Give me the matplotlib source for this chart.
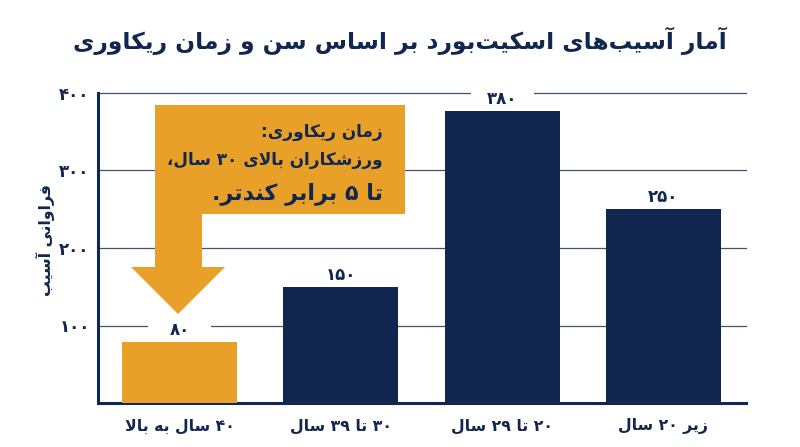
import matplotlib
matplotlib.use("Agg")
import matplotlib.pyplot as plt
from matplotlib.patches import Polygon, Rectangle
from matplotlib.transforms import Affine2D

title = "آمار آسیب\u200cهای اسکیت\u200cبورد بر اساس سن و زمان ریکاوری"
ylabel = "فراوانی آسیب"
categories = ["۴۰ سال به بالا", "۳۰ تا ۳۹ سال", "۲۰ تا ۲۹ سال", "زیر ۲۰ سال"]
bar_heights = [79, 150, 377, 250]
value_labels = ["۸۰", "۱۵۰", "۳۸۰", "۲۵۰"]
bar_colors = ["#E8A028", "#12274F", "#12274F", "#12274F"]
y_ticks = [100, 200, 300, 400]
y_tick_labels = ["۱۰۰", "۲۰۰", "۳۰۰", "۴۰۰"]
callout_lines = ["زمان ریکاوری:", "ورزشکاران بالای ۳۰ سال،", "تا ۵ برابر کندتر."]

NAVY = "#12274F"
ORANGE = "#E8A028"

DUAL = {"ب": 0xFE8F, "ت": 0xFE95, "س": 0xFEB1, "ش": 0xFEB5, "ف": 0xFED1, "ل": 0xFEDD,
        "م": 0xFEE1, "ن": 0xFEE5, "ه": 0xFEE9, "ک": 0xFB8E, "ی": 0xFBFC}
RIGHT = {"ا": 0xFE8D, "آ": 0xFE81, "د": 0xFEA9, "ر": 0xFEAD, "ز": 0xFEAF, "و": 0xFEED}


def shape(text):
    """Logical Persian -> visual order presentation forms (matplotlib has no shaper)."""
    out = []
    n = len(text)
    i = 0
    while i < n:
        c = text[i]
        prev = text[i - 1] if i else ""
        joins_prev = prev in DUAL
        if c == "ل" and i + 1 < n and text[i + 1] == "ا":
            out.append(chr(0xFEFC if joins_prev else 0xFEFB))
            i += 2
            continue
        nxt = text[i + 1] if i + 1 < n else ""
        joins_next = nxt in DUAL or nxt in RIGHT
        if c in DUAL:
            base = DUAL[c]
            out.append(chr(base + (3 if joins_prev and joins_next else 1 if joins_prev
                                   else 2 if joins_next else 0)))
        elif c in RIGHT:
            out.append(chr(RIGHT[c] + (1 if joins_prev else 0)))
        elif c != "\u200c":
            out.append(c)
        i += 1
    # visual order: reverse everything, keeping digit runs left to right
    res, run = [], []
    for c in reversed(out):
        if "\u06f0" <= c <= "\u06f9":
            run.append(c)
        else:
            res.extend(reversed(run))
            run = []
            res.append(c)
    res.extend(reversed(run))
    return "".join(res)


plt.rcParams["font.family"] = ["DejaVu Sans"]
plt.rcParams["font.weight"] = "bold"

W, H = 800, 447
fig = plt.figure(figsize=(W / 100, H / 100), dpi=100, facecolor="white")
px = Affine2D().scale(1, -1).translate(0, H)  # reference pixel coordinates

L, R, T, B = 98, 746, 93, 403
ax = fig.add_axes([L / W, 1 - B / H, (R - L) / W, (B - T) / H])
ax.set_ylim(0, 400)
step = 161.3
ax.set_xlim((L - 179.5) / step, (R - 179.5) / step)
x = list(range(len(categories)))

for t in y_ticks:
    ax.axhline(t, color="#3F5272", lw=0.9, zorder=1, clip_on=False)

ax.bar(x, bar_heights, width=115 / step, color=bar_colors, zorder=3)

for xi, h, lab in zip(x, bar_heights, value_labels):
    ax.add_patch(Rectangle((xi - 0.195, h + 2), 0.39, 26, facecolor="white", edgecolor="none",
                           zorder=2, clip_on=False))
    ax.annotate(shape(lab), (xi, h), xytext=(0, 3), textcoords="offset pixels",
                ha="center", va="bottom", fontsize=12, color=NAVY, zorder=6)

for s in ("top", "right"):
    ax.spines[s].set_visible(False)
for s in ("left", "bottom"):
    ax.spines[s].set_color(NAVY)
    ax.spines[s].set_linewidth(2.2)
ax.set_xticks(x, [shape(c) for c in categories], fontsize=11.3, color=NAVY)
ax.set_yticks(y_ticks, [shape(t) for t in y_tick_labels], fontsize=12, color=NAVY)
ax.tick_params(axis="both", length=0)
ax.tick_params(axis="x", pad=11)
ax.tick_params(axis="y", pad=6)

fig.text(400, 41, shape(title), transform=px, ha="center", va="center",
         fontsize=16.8, color=NAVY)
fig.text(45, 240, shape(ylabel), transform=px, rotation=90, ha="center", va="center",
         fontsize=11.3, color=NAVY)

arrow = [(155, 105), (405, 105), (405, 214), (202, 214), (202, 267), (225, 267),
         (178, 314), (131, 267), (155, 267)]
fig.add_artist(Polygon(arrow, closed=True, transform=px, facecolor=ORANGE, edgecolor="none", zorder=4))

for line, y, size in zip(callout_lines, (132, 160, 194), (12.2, 12.2, 16)):
    fig.text(383, y, shape(line), transform=px, ha="right", va="center",
             fontsize=size, color=NAVY, zorder=6)

fig.savefig("out.png", dpi=100, facecolor="white")
